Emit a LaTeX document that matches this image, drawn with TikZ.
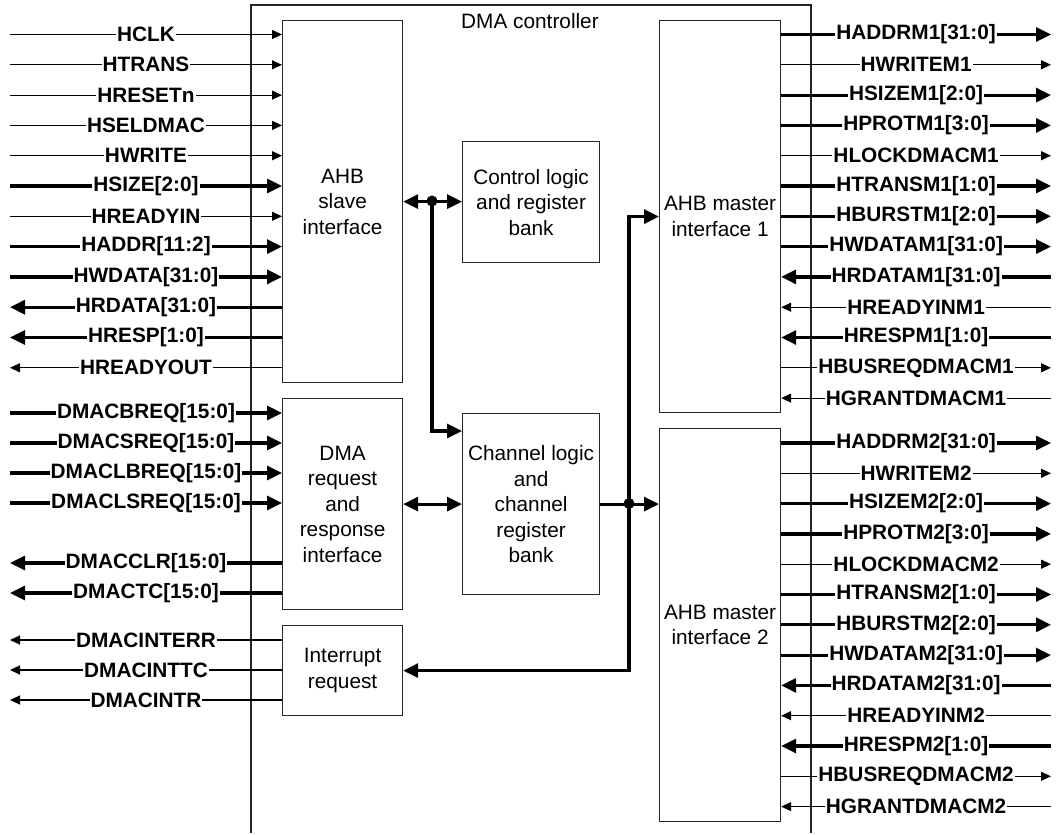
\documentclass[tikz,border=0pt]{standalone}
\usepackage{fontspec}
\setmainfont{Liberation Sans}
\usetikzlibrary{arrows.meta}
\begin{document}
\begin{tikzpicture}[x=1pt,y=-1pt,
 sigthin/.style={line width=1.2pt, >={Triangle[length=10pt,width=9pt]}},
 sigthick/.style={line width=3.2pt, >={Triangle[length=15pt,width=14pt]}},
 fw/.style={->}, bw/.style={<-},
 lbl/.style={fill=white, inner xsep=1pt, inner ysep=0pt, font=\fontsize{20.8}{24}\selectfont\bfseries},
 blk/.style={draw=black!85, line width=1.2pt, align=center, anchor=north west, inner sep=2pt, font=\fontsize{20.8}{25.5}\selectfont},
 jdot/.style={circle, fill=black, inner sep=0pt, minimum size=11pt},
 frame/.style={draw=black!85, line width=1.2pt}]
\useasboundingbox (0,0) rectangle (1061,835);
% outer controller frame (bottom edge cut off)
\draw[frame] (251,833) -- (251,5) -- (811,5) -- (811,833);
\node[font=\fontsize{20.8}{24}\selectfont] (title) at (530,21) {DMA controller};
% blocks
\node[blk, minimum width=120, minimum height=362] (slave) at (282,20) {AHB\\slave\\interface};
\node[blk, minimum width=120, minimum height=211] (dmareq) at (282,398) {DMA\\request\\and\\response\\interface};
\node[blk, minimum width=120, minimum height=90] (intr) at (282,625) {Interrupt\\request};
\node[blk, minimum width=137, minimum height=121] (ctrl) at (462,141) {Control logic\\and register\\bank};
\node[blk, minimum width=137, minimum height=181] (chan) at (462,413) {Channel logic\\and\\channel\\register\\bank};
\node[blk, minimum width=121, minimum height=392] (m1) at (659,20) {AHB master\\interface 1};
\node[blk, minimum width=121, minimum height=393] (m2) at (659,428) {AHB master\\interface 2};
% left signals: slave interface
\foreach \yy/\txt/\w/\d [count=\i] in {34.5/HCLK/sigthin/fw, 64.8/HTRANS/sigthin/fw, 95.1/HRESETn/sigthin/fw, 125.4/HSELDMAC/sigthin/fw, 155.7/HWRITE/sigthin/fw, 186.0/HSIZE[2:0]/sigthick/fw, 216.3/HREADYIN/sigthin/fw, 246.6/HADDR[11:2]/sigthick/fw, 276.9/HWDATA[31:0]/sigthick/fw, 307.2/HRDATA[31:0]/sigthick/bw, 337.5/HRESP[1:0]/sigthick/bw, 367.8/HREADYOUT/sigthin/bw}{
  \coordinate (ls\i) at (10,\yy);
  \draw[\w,\d] (ls\i) -- node[lbl]{\txt} (slave.west |- ls\i);
}
% left signals: DMA request interface
\foreach \yy/\txt/\w/\d [count=\i] in {413/DMACBREQ[15:0]/sigthick/fw, 443/DMACSREQ[15:0]/sigthick/fw, 473/DMACLBREQ[15:0]/sigthick/fw, 503/DMACLSREQ[15:0]/sigthick/fw, 563/DMACCLR[15:0]/sigthick/bw, 593/DMACTC[15:0]/sigthick/bw}{
  \coordinate (ld\i) at (10,\yy);
  \draw[\w,\d] (ld\i) -- node[lbl]{\txt} (dmareq.west |- ld\i);
}
% left signals: interrupts
\foreach \yy/\txt/\w/\d [count=\i] in {640/DMACINTERR/sigthin/bw, 670/DMACINTTC/sigthin/bw, 700/DMACINTR/sigthin/bw}{
  \coordinate (li\i) at (10,\yy);
  \draw[\w,\d] (li\i) -- node[lbl]{\txt} (intr.west |- li\i);
}
% right signals: master 1
\foreach \yy/\txt/\w/\d [count=\i] in {34.5/HADDRM1[31:0]/sigthick/fw, 64.8/HWRITEM1/sigthin/fw, 95.1/HSIZEM1[2:0]/sigthick/fw, 125.4/HPROTM1[3:0]/sigthick/fw, 155.7/HLOCKDMACM1/sigthin/fw, 186.0/HTRANSM1[1:0]/sigthick/fw, 216.3/HBURSTM1[2:0]/sigthick/fw, 246.6/HWDATAM1[31:0]/sigthick/fw, 276.9/HRDATAM1[31:0]/sigthick/bw, 307.2/HREADYINM1/sigthin/bw, 337.5/HRESPM1[1:0]/sigthick/bw, 367.8/HBUSREQDMACM1/sigthin/fw, 398.1/HGRANTDMACM1/sigthin/bw}{
  \coordinate (ra\i) at (1051,\yy);
  \draw[\w,\d] (m1.east |- ra\i) -- node[lbl]{\txt} (ra\i);
}
% right signals: master 2
\foreach \yy/\txt/\w/\d [count=\i] in {443/HADDRM2[31:0]/sigthick/fw, 473.3/HWRITEM2/sigthin/fw, 503.6/HSIZEM2[2:0]/sigthick/fw, 533.9/HPROTM2[3:0]/sigthick/fw, 564.2/HLOCKDMACM2/sigthin/fw, 594.5/HTRANSM2[1:0]/sigthick/fw, 624.8/HBURSTM2[2:0]/sigthick/fw, 655.1/HWDATAM2[31:0]/sigthick/fw, 685.4/HRDATAM2[31:0]/sigthick/bw, 715.7/HREADYINM2/sigthin/bw, 746.0/HRESPM2[1:0]/sigthick/bw, 776.3/HBUSREQDMACM2/sigthin/fw, 806.6/HGRANTDMACM2/sigthin/bw}{
  \coordinate (rb\i) at (1051,\yy);
  \draw[\w,\d] (m2.east |- rb\i) -- node[lbl]{\txt} (rb\i);
}
% internal connections
\draw[sigthick,<->] (slave.east) -- (slave.east -| ctrl.west);
\node[jdot] (j1) at (432,201) {};
\draw[sigthick,->] (j1.center) |- ([yshift=-18pt]chan.north west);
\draw[sigthick,<->] (dmareq.east) -- (chan.west);
\node[jdot] (j2) at (629,503.5) {};
\draw[sigthick,->] (chan.east) -- (chan.east -| m2.west);
\draw[sigthick,->] (j2.center) |- (m1.west);
\draw[sigthick,->] (j2.center) |- (intr.east);
\end{tikzpicture}
\end{document}
